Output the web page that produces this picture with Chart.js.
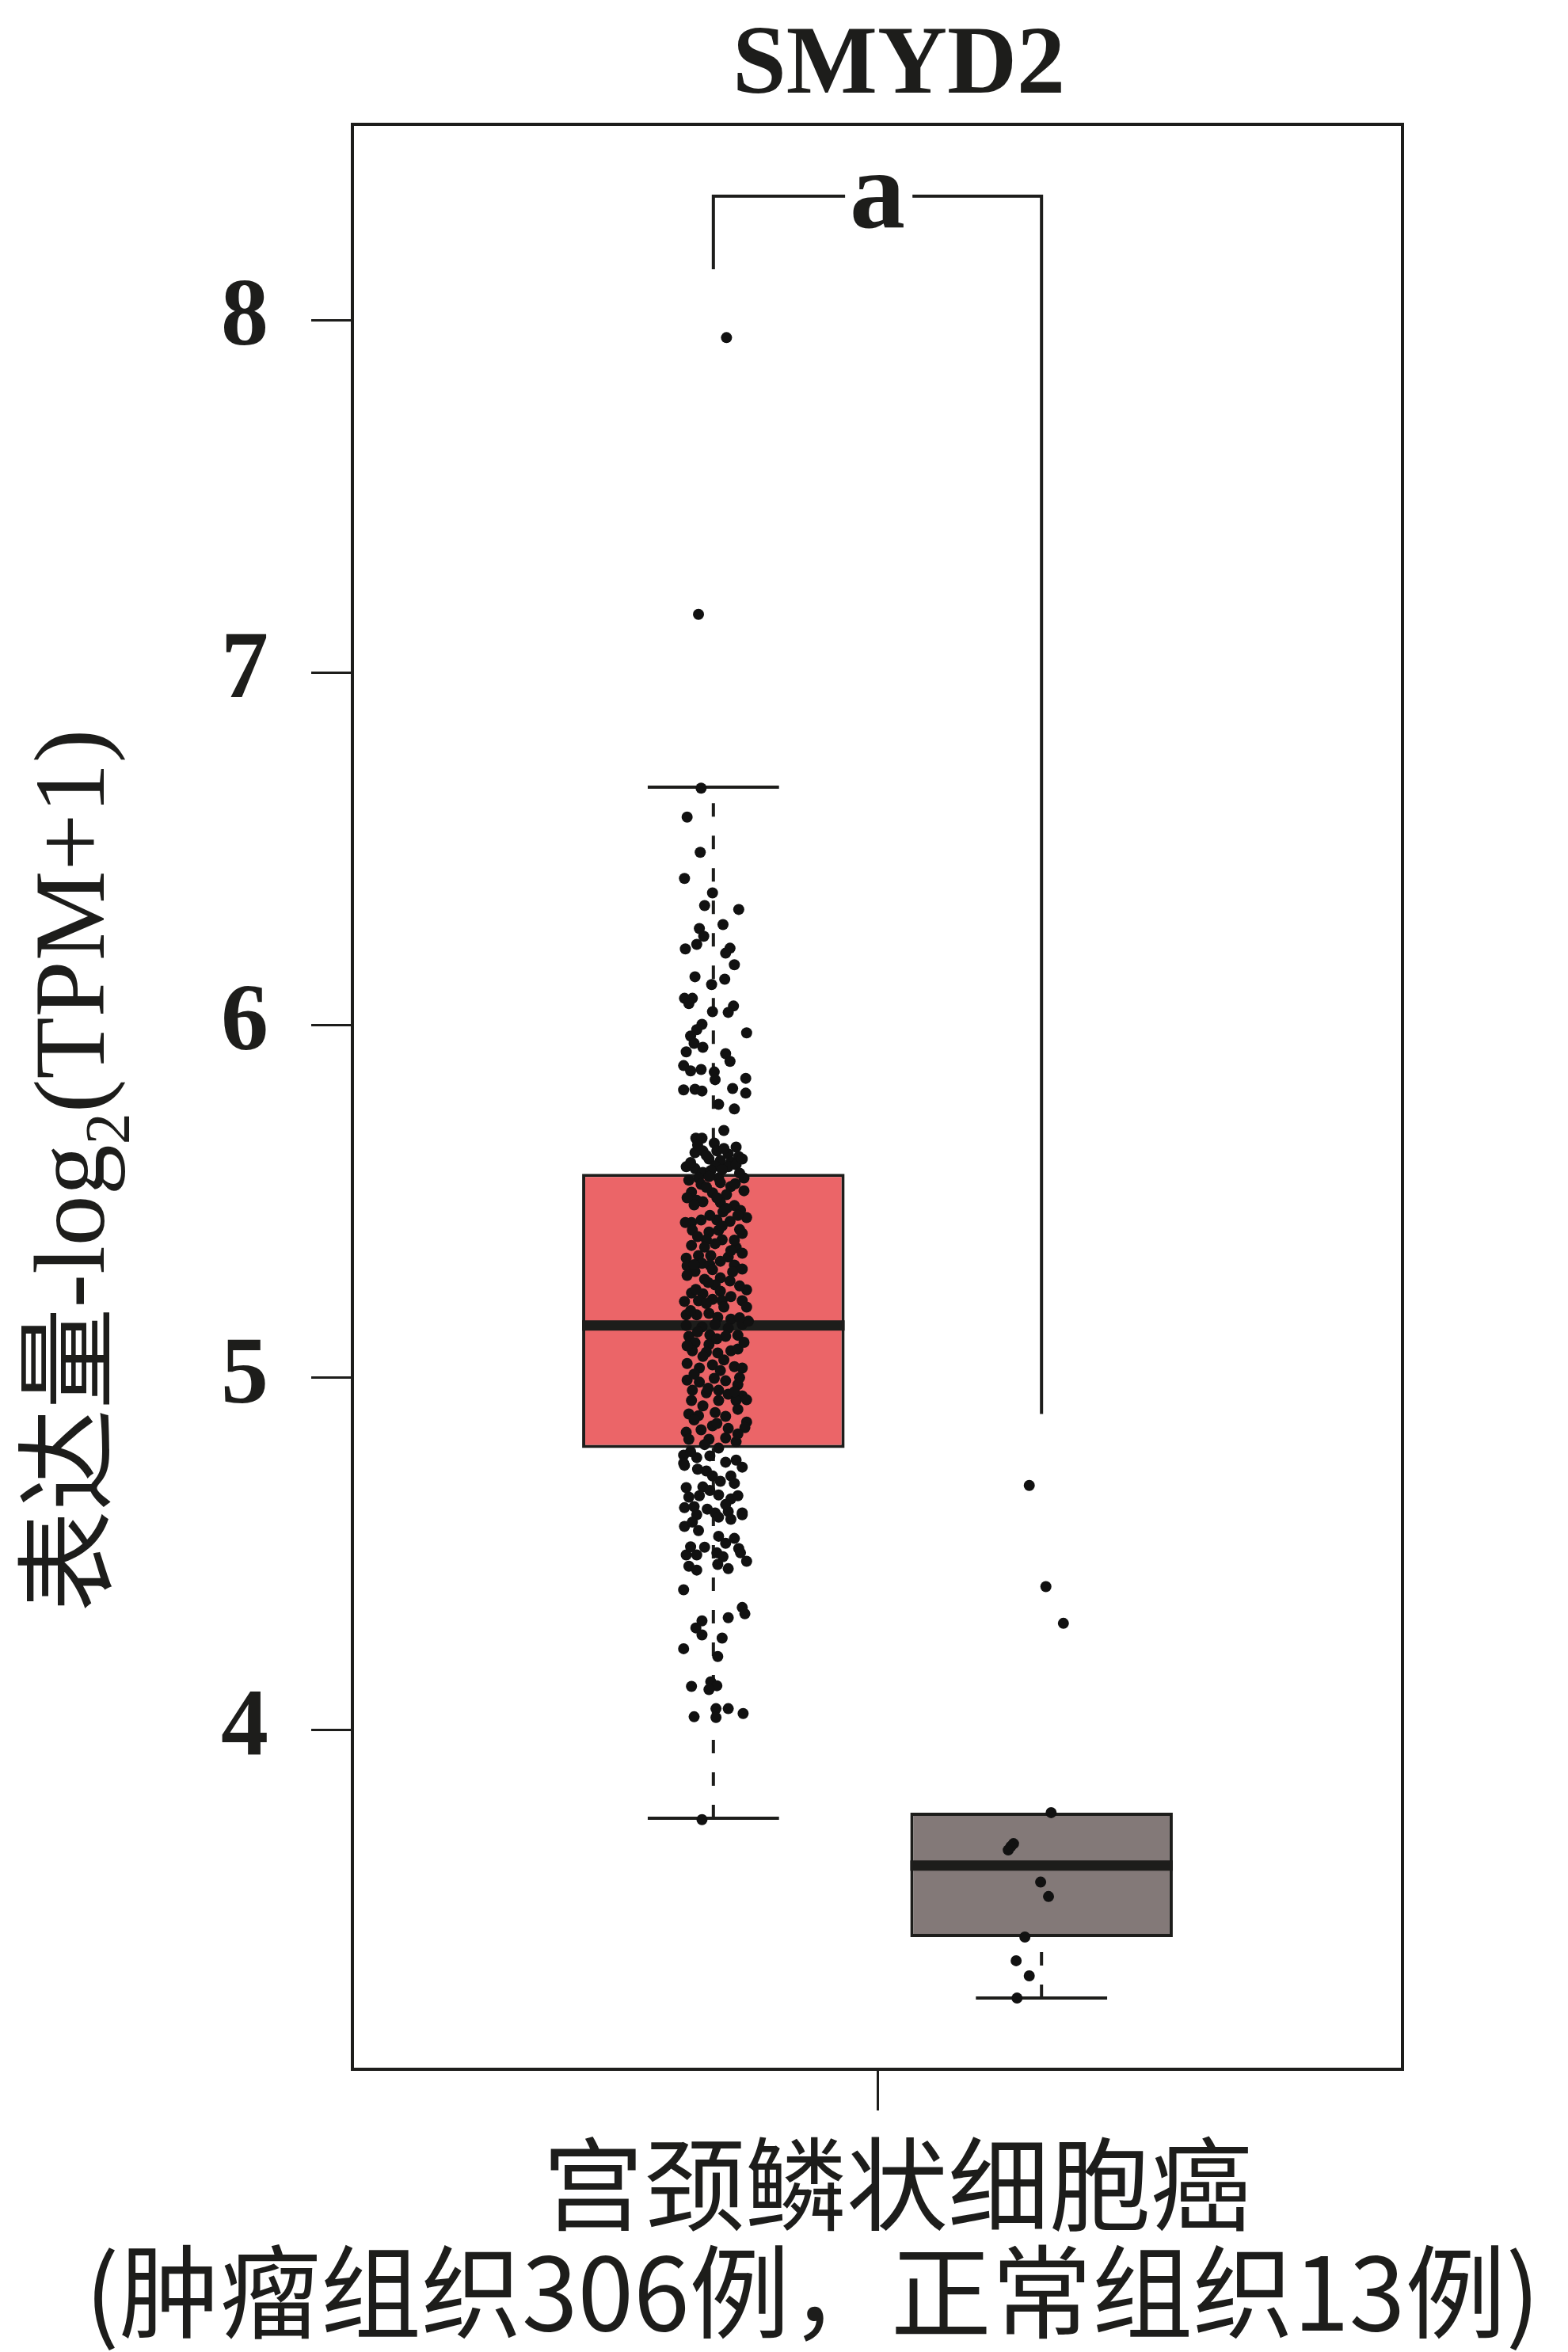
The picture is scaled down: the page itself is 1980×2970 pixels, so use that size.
<!DOCTYPE html>
<html>
<head>
<meta charset="utf-8">
<script src="https://cdn.jsdelivr.net/npm/chart.js@4"></script>
<style>
  html, body { margin: 0; padding: 0; background: #fff; }
  canvas { display: block; }
</style>
</head>
<body>
<canvas id="boxChart" width="1980" height="2970"></canvas>
<script>
// ---- data ----
const geneName = 'SMYD2';
const categoryLabel = ['宫颈鳞状细胞癌', '(肿瘤组织306例，正常组织13例)'];
const yTitle = ['表达量-log', '2', '(TPM+1)'];
const yTicks = [4, 5, 6, 7, 8];
const categoryPos = 1;

// tumour (left) and normal (right) box statistics
const groupPos = [0.8125, 1.1875];
const q1 = [4.80, 3.413];
const medians = [5.148, 3.616];
const q3 = [5.578, 3.766];
const whiskerLow = [3.75, 3.24];
const whiskerHigh = [6.675, 3.766];
const boxColors = ['#EB6568', '#837978'];

// significance bracket: left foot, bar height, right foot
const bracketY = [8.144, 8.351, 4.897];
const sigLabel = 'a';

// tumour samples (value, horizontal jitter)
const tumorValues = [
  7.95, 7.165, 6.672, 6.59, 6.49,
  6.416, 6.375, 6.339, 6.328, 6.285, 6.274, 6.252, 6.229, 6.216, 6.218,
  6.204, 6.171, 6.137, 6.130, 6.115, 6.076, 6.076, 6.061, 6.038, 6.054,
  6.036, 6.002, 5.987, 5.978, 5.969, 5.948, 5.937, 5.924, 5.919, 5.897,
  5.885, 5.870, 5.874, 5.867, 5.845, 5.849, 5.816, 5.818, 5.813, 5.820,
  5.807, 5.775, 5.762, 5.701, 5.679, 5.679,
  5.665, 5.654, 5.638, 5.643, 5.643, 5.634, 5.627, 5.620, 5.616, 5.611,
  5.598, 5.593, 5.600, 5.598, 5.604, 5.582, 5.587, 5.566, 5.566, 5.566,
  5.548, 5.553, 5.542, 5.526, 5.524, 5.519, 5.503, 5.499, 5.497, 5.488,
  5.474, 5.470, 5.454, 5.440, 5.447, 5.447, 5.443,
  5.418, 5.413, 5.418, 5.409, 5.391, 5.391, 5.375, 5.369, 5.353, 5.339,
  5.346, 5.346, 5.342, 5.317, 5.324, 5.319, 5.319, 5.308, 5.301, 5.306,
  5.279, 5.283, 5.274, 5.263, 5.240, 5.238, 5.245, 5.249, 5.216, 5.218,
  5.222, 5.218, 5.218, 5.200, 5.178, 5.178, 5.182, 5.171, 5.166, 5.148,
  5.144, 5.151, 5.140, 5.151, 5.160, 5.117, 5.121, 5.117, 5.099, 5.094,
  5.076, 5.072, 5.070, 5.076, 5.081, 5.027, 5.036, 5.031, 5.027, 4.993,
  4.987, 4.998, 4.991, 4.980, 4.964, 4.957, 4.964, 4.953, 4.948, 4.935,
  4.935, 4.935, 4.937, 4.897, 4.892, 4.901, 4.890, 4.874, 4.858, 4.845,
  4.852, 4.863, 4.856, 4.825, 4.825, 4.829, 4.818, 4.780, 4.773, 4.778,
  4.766, 4.757,
  4.751, 4.735, 4.746, 4.721, 4.721, 4.688, 4.690, 4.706, 4.661, 4.665,
  4.667, 4.656, 4.665, 4.631, 4.634, 4.627, 4.616, 4.620, 4.616,
  4.611, 4.604, 4.598, 4.611, 4.578, 4.566, 4.544, 4.530, 4.519, 4.515,
  4.497, 4.497, 4.503, 4.492, 4.503, 4.465, 4.454, 4.470, 4.458, 4.479,
  4.398, 4.348, 4.330, 4.319, 4.310, 4.290, 4.270, 4.261, 4.231, 4.209,
  4.124, 4.137, 4.126, 4.115, 4.038, 4.061, 4.036, 4.061, 4.047, 3.746,
  // overlapping points inside the dense core
  5.66, 5.65, 5.63, 5.62, 5.61, 5.59, 5.58, 5.57, 5.56, 5.55,
  5.54, 5.53, 5.51, 5.51, 5.49, 5.48, 5.46, 5.46, 5.44, 5.43,
  5.42, 5.40, 5.39, 5.38, 5.37, 5.36, 5.33, 5.32, 5.30, 5.29,
  5.27, 5.26, 5.25, 5.23, 5.21, 5.20, 5.19, 5.17, 5.13, 5.12,
  5.11, 5.10, 5.09, 5.06, 5.05, 5.04, 5.02, 5.01, 5.00, 4.97,
  4.96, 4.92, 4.91, 4.88, 4.87, 4.84, 4.81, 4.80, 4.79, 4.76,
  4.74, 4.70, 4.68, 4.64, 4.59, 4.55, 4.52
];
const tumorJitter = [
  0.015, -0.017, -0.014, -0.030, -0.015,
  -0.033, -0.001, -0.010, 0.029, 0.011, -0.016, -0.011, -0.019, -0.032, 0.019,
  0.014, 0.024, -0.021, 0.013, -0.002, -0.033, -0.024, -0.028, -0.001, 0.023,
  0.017, -0.013, -0.019, 0.038, -0.026, -0.022, -0.012, -0.031, 0.014, 0.019,
  -0.034, -0.026, -0.014, 0.001, 0.002, 0.037, -0.034, -0.021, -0.013, 0.022,
  0.037, 0.006, 0.024, 0.012, -0.020, -0.013,
  0.001, 0.026, -0.021, -0.012, 0.004, 0.017, 0.029, -0.005, 0.008, 0.020,
  -0.031, -0.021, 0.002, 0.017, 0.026, -0.012, -0.003, -0.017, 0.006, 0.035,
  -0.014, 0.008, 0.020, -0.025, -0.001, 0.015, -0.019, -0.012, 0.008, 0.024,
  0.031, 0.011, 0.038, -0.025, -0.014, 0.004, 0.019,
  -0.024, -0.005, 0.006, 0.033, -0.008, 0.010, -0.025, 0.026, 0.033, -0.031,
  -0.017, -0.003, 0.017, -0.030, -0.013, -0.004, 0.024, 0.033, -0.021, -0.001,
  -0.010, 0.008, 0.019, 0.002, -0.025, -0.012, 0.008, 0.038, -0.033, -0.017,
  -0.001, 0.010, 0.033, 0.038, -0.031, -0.019, -0.005, 0.005, 0.020, -0.031,
  -0.013, 0.002, 0.017, 0.033, 0.040, -0.028, -0.004, 0.014, -0.021, -0.005,
  -0.024, -0.008, 0.005, 0.020, 0.028, -0.016, -0.001, 0.024, 0.033, -0.030,
  -0.016, 0.001, 0.014, 0.028, -0.024, -0.008, 0.006, 0.017, 0.033, -0.025,
  0.006, 0.026, 0.038, -0.028, -0.017, 0.002, 0.014, 0.038, 0.036, -0.031,
  -0.014, -0.001, 0.017, -0.028, -0.005, 0.014, 0.026, -0.034, -0.019, -0.004,
  0.026, -0.034,
  -0.033, -0.008, 0.033, -0.001, 0.020, -0.031, -0.012, 0.008, -0.028, -0.016,
  0.006, 0.020, 0.028, -0.033, -0.022, -0.007, 0.002, 0.017, 0.033,
  -0.019, 0.006, 0.020, 0.033, -0.033, -0.017, 0.024, 0.014, -0.010, 0.029,
  -0.031, -0.019, 0.004, 0.011, 0.031, -0.028, -0.019, 0.005, 0.017, 0.038,
  -0.034, 0.033, 0.036, 0.017, -0.013, -0.020, -0.013, 0.010, -0.034, 0.005,
  -0.025, -0.003, 0.004, -0.005, -0.022, 0.003, 0.003, 0.017, 0.034, -0.013,
  -0.018, 0.012, -0.008, 0.033, -0.026, 0.010, 0.030, -0.005, -0.028, 0.025,
  -0.008, 0.035, -0.030, 0.004, -0.022, 0.015, -0.004, 0.028, -0.032, 0.010,
  0.030, -0.018, 0.024, 0.002, -0.010, 0.020, 0.008, -0.022, 0.022, -0.030,
  -0.006, 0.030, -0.020, 0.020, -0.008, 0.012, -0.026, 0.030, -0.018, 0.028,
  0.004, 0.035, -0.030, -0.012, 0.012, -0.030, 0.008, -0.022, 0.030, -0.006,
  0.024, -0.012, 0.028, -0.022, 0.004, 0.028, -0.010, 0.006, -0.026, 0.014,
  -0.018, 0.024, -0.004, 0.014, -0.024, 0.006, -0.026
];

// normal samples
const normalValues = [4.694, 4.407, 4.303, 3.766, 3.678, 3.670, 3.660, 3.569, 3.528, 3.413, 3.346, 3.303, 3.240];
const normalJitter = [-0.014, 0.005, 0.025, 0.011, -0.032, -0.035, -0.038, -0.001, 0.008, -0.019, -0.029, -0.014, -0.028];

// ---- drawing ----
const ink = '#1d1d1b';
const serif = '"Liberation Serif", "DejaVu Serif", serif';
const cjk = '"Noto Sans CJK SC", sans-serif';
const halfBox = 0.15;
const halfCap = 0.075;

function seg(points, extra) {
  return Object.assign({
    type: 'line',
    data: points,
    borderColor: ink,
    borderWidth: 4,
    pointRadius: 0,
    pointHoverRadius: 0,
    tension: 0,
    fill: false,
    borderCapStyle: 'butt',
    borderJoinStyle: 'miter',
    order: 1
  }, extra || {});
}

const lineSets = [];
groupPos.forEach(function (p, i) {
  if (whiskerHigh[i] > q3[i]) {
    lineSets.push(seg([{x: p, y: q3[i]}, {x: p, y: whiskerHigh[i]}], {borderDash: [17, 24]}));
    lineSets.push(seg([{x: p - halfCap, y: whiskerHigh[i]}, {x: p + halfCap, y: whiskerHigh[i]}]));
  }
  lineSets.push(seg([{x: p, y: whiskerLow[i]}, {x: p, y: q1[i]}], {borderDash: [17, 24]}));
  lineSets.push(seg([{x: p - halfCap, y: whiskerLow[i]}, {x: p + halfCap, y: whiskerLow[i]}]));
  lineSets.push(seg([{x: p - halfBox, y: medians[i]}, {x: p + halfBox, y: medians[i]}], {borderWidth: 13}));
});
// bracket with a gap for the letter
lineSets.push(seg([
  {x: groupPos[0], y: bracketY[0]}, {x: groupPos[0], y: bracketY[1]}, {x: 0.963, y: bracketY[1]}
]));
lineSets.push(seg([
  {x: 1.040, y: bracketY[1]}, {x: groupPos[1], y: bracketY[1]}, {x: groupPos[1], y: bracketY[2]}
]));

const pointData = tumorValues.map((v, i) => ({x: groupPos[0] + tumorJitter[i], y: v}))
  .concat(normalValues.map((v, i) => ({x: groupPos[1] + normalJitter[i], y: v})));

const extras = {
  id: 'extras',
  afterDatasetsDraw(chart) {
    const {ctx, chartArea: a, scales: {x, y}} = chart;
    ctx.save();
    ctx.strokeStyle = ink;
    ctx.lineWidth = 4;
    ctx.strokeRect(a.left, a.top, a.right - a.left, a.bottom - a.top);
    ctx.fillStyle = ink;
    ctx.font = 'bold 140px ' + serif;
    ctx.textAlign = 'center';
    ctx.textBaseline = 'alphabetic';
    ctx.fillText(sigLabel, x.getPixelForValue(1.0), y.getPixelForValue(bracketY[1]) + 39);
    ctx.restore();
  },
  afterDraw(chart) {
    const {ctx, chartArea: a, scales: {x}} = chart;
    ctx.save();
    ctx.fillStyle = ink;
    // gene title
    ctx.font = 'bold 122px ' + serif;
    ctx.textAlign = 'center';
    ctx.textBaseline = 'alphabetic';
    ctx.fillText(geneName, (a.left + a.right) / 2 + 27, 117);

    // category label, two lines (second line set a little narrower and to the left)
    const tickX = x.getPixelForValue(categoryPos);
    ctx.font = '128px ' + cjk;
    ctx.textBaseline = 'middle';
    ctx.fillText(categoryLabel[0], tickX + 25, a.bottom + 145);
    const w = ctx.measureText(categoryLabel[1]).width;
    ctx.save();
    ctx.translate(tickX - 82, a.bottom + 281);
    ctx.scale(Math.min(1, 1837 / w), 1);
    ctx.fillText(categoryLabel[1], 0, 0);
    ctx.restore();

    // rotated y title with subscript
    const mainFont = '128px ' + serif + ', ' + cjk;
    const subFont = '80px ' + serif;
    ctx.font = mainFont;
    const w1 = ctx.measureText(yTitle[0]).width;
    const w3 = ctx.measureText(yTitle[2]).width;
    ctx.font = subFont;
    const w2 = ctx.measureText(yTitle[1]).width;
    const total = w1 + w2 + w3;
    ctx.translate(131, (a.top + a.bottom) / 2 + 93);
    ctx.rotate(-Math.PI / 2);
    ctx.textAlign = 'left';
    ctx.textBaseline = 'alphabetic';
    const x0 = -total / 2;
    ctx.font = mainFont;
    ctx.fillText(yTitle[0], x0, 0);
    ctx.font = subFont;
    ctx.fillText(yTitle[1], x0 + w1, 32);
    ctx.font = mainFont;
    ctx.fillText(yTitle[2], x0 + w1 + w2, 0);
    ctx.restore();
  }
};

new Chart(document.getElementById('boxChart'), {
  type: 'bar',
  data: {
    datasets: [
      {
        type: 'scatter',
        data: pointData,
        backgroundColor: '#111111',
        borderWidth: 0,
        pointRadius: 7,
        pointHoverRadius: 7,
        order: 0
      },
      ...lineSets,
      {
        type: 'bar',
        data: groupPos.map((p, i) => ({x: p, y: [q1[i], q3[i]]})),
        backgroundColor: boxColors,
        borderColor: ink,
        borderWidth: 4,
        borderSkipped: false,
        categoryPercentage: 1,
        barPercentage: 0.8,
        order: 3
      }
    ]
  },
  options: {
    responsive: false,
    devicePixelRatio: 1,
    animation: false,
    layout: { padding: { top: 157, right: 209, left: 0, bottom: 0 } },
    plugins: {
      legend: { display: false },
      tooltip: { enabled: false },
      title: { display: false }
    },
    scales: {
      x: {
        type: 'linear',
        min: 0.4,
        max: 1.6,
        offset: false,
        afterBuildTicks(scale) { scale.ticks = [{value: categoryPos}]; },
        afterFit(scale) {
          scale.height = 357;
          scale.paddingLeft = 0;
          scale.paddingRight = 0;
        },
        border: { display: false },
        grid: { drawOnChartArea: false, offset: false, tickLength: 52, tickWidth: 3, tickColor: ink },
        ticks: { display: false }
      },
      y: {
        type: 'linear',
        min: 3.038,
        max: 8.555,
        afterBuildTicks(scale) { scale.ticks = yTicks.map(v => ({value: v})); },
        afterFit(scale) {
          scale.width = 445;
          scale.paddingTop = 0;
          scale.paddingBottom = 0;
        },
        border: { display: false },
        grid: { drawOnChartArea: false, tickLength: 52, tickWidth: 3, tickColor: ink },
        ticks: {
          padding: 54,
          color: ink,
          font: { family: serif, size: 120, weight: 'bold' }
        }
      }
    }
  },
  plugins: [extras]
});
</script>
</body>
</html>
